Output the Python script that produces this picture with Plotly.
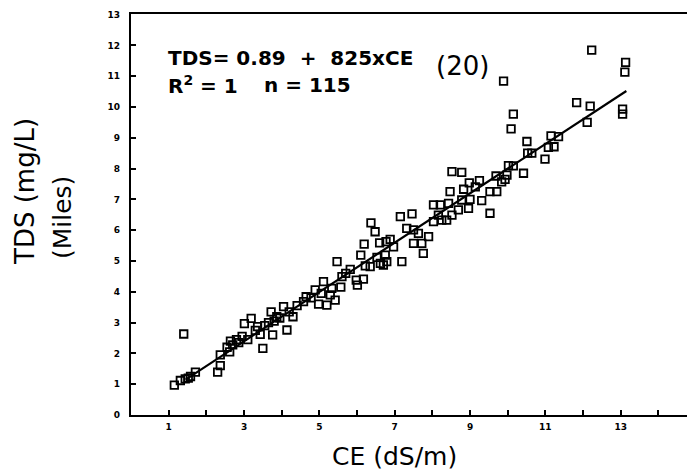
import plotly.graph_objects as go

# Data (CE in dS/m, TDS in mg/L)
ce = [1.15, 1.31, 1.44, 1.52, 1.58, 1.71, 1.40, 2.30, 2.37, 2.37, 2.62, 2.64, 2.70, 2.80, 2.86,
      3.01, 3.10, 3.19, 3.30, 3.36, 3.43, 3.50, 3.55, 3.65, 3.72, 3.76, 3.80, 3.87, 3.95, 4.05,
      4.14, 4.20, 4.30, 4.41, 2.55, 2.95,
      4.58, 4.65, 4.78, 4.89, 4.98, 5.05, 5.11, 5.20, 5.29, 5.33, 5.42, 5.47, 5.57, 5.60, 5.70,
      5.82, 5.98, 6.01, 6.10, 6.17, 6.19, 6.22, 6.35, 6.37, 6.48, 6.53, 6.60, 6.62, 6.75, 6.77,
      6.79, 6.88, 6.97, 6.70,
      7.15, 7.19, 7.32, 7.46, 7.50, 7.50, 7.63, 7.72, 7.76, 7.90, 8.03, 8.03, 8.16, 8.21, 8.25,
      8.38, 8.43, 8.47, 8.52, 8.52, 8.69, 8.78, 8.78, 8.83, 8.96, 8.98, 9.00, 9.14, 9.25, 9.31,
      9.53, 9.53, 9.69, 9.71, 9.84, 9.89, 9.93, 9.98,
      10.02, 10.09, 10.15, 10.15, 10.42, 10.51, 10.53, 10.64, 10.99, 11.08, 11.15, 11.23, 11.35,
      11.83, 12.11, 12.19, 12.23, 13.05, 13.05, 13.11, 13.13]
tds = [0.97, 1.12, 1.17, 1.20, 1.25, 1.39, 2.63, 1.39, 1.60, 1.95, 2.05, 2.40, 2.28, 2.45, 2.35,
       2.97, 2.45, 3.14, 2.75, 2.87, 2.62, 2.16, 2.90, 3.00, 3.35, 2.60, 3.05, 3.19, 3.15, 3.52,
       2.76, 3.35, 3.19, 3.55, 2.20, 2.55,
       3.68, 3.84, 3.80, 4.06, 3.60, 3.95, 4.33, 3.57, 3.90, 4.11, 3.73, 4.98, 4.15, 4.49, 4.60,
       4.73, 4.38, 4.22, 5.19, 4.41, 5.55, 4.84, 4.82, 6.24, 5.95, 5.12, 5.59, 4.92, 5.19, 5.63,
       4.98, 5.70, 5.46, 4.87,
       6.44, 4.98, 6.06, 6.53, 5.57, 6.01, 5.90, 5.57, 5.25, 5.79, 6.28, 6.82, 6.49, 6.82, 6.33,
       6.33, 6.87, 7.25, 6.49, 7.90, 6.66, 7.88, 6.98, 7.33, 6.71, 7.54, 7.00, 7.41, 7.61, 6.96,
       6.55, 7.25, 7.76, 7.25, 7.57, 10.84, 7.65, 7.79,
       8.10, 9.29, 9.77, 8.09, 7.85, 8.88, 8.50, 8.50, 8.31, 8.69, 9.06, 8.71, 9.04,
       10.14, 9.50, 10.03, 11.85, 9.77, 9.93, 11.13, 11.45]

# Regression line end values
fit_ce = [1.45, 13.15]
fit_tds = [1.15, 10.52]

x_tickvals = [1, 3, 5, 7, 9, 11, 13]
y_tickvals = list(range(0, 14))

fig = go.Figure()
fig.add_trace(go.Scatter(x=fit_ce, y=fit_tds, mode="lines",
                         line=dict(color="black", width=2.2), showlegend=False,
                         hoverinfo="skip"))
fig.add_trace(go.Scatter(x=ce, y=tds, mode="markers",
                         marker=dict(symbol="square-open", size=7.5, color="black",
                                     line=dict(width=1.8, color="black")),
                         showlegend=False))

tickfont = dict(family="DejaVu Sans", size=9, color="black", weight="bold")

fig.update_layout(
    width=687, height=472,
    margin=dict(l=131, r=0, t=14, b=57),
    paper_bgcolor="white", plot_bgcolor="white",
    xaxis=dict(range=[0, 14.76], tickvals=x_tickvals, ticks="inside", ticklen=5,
               tickwidth=1.5, tickcolor="black", showline=True, linecolor="black",
               linewidth=2, mirror=True, showgrid=False, zeroline=False,
               tickfont=tickfont, ticklabelstandoff=2,
               minor=dict(dtick=1, tick0=0, ticks="inside", ticklen=5, tickwidth=1.5,
                          tickcolor="black", showgrid=False)),
    yaxis=dict(range=[0, 13.02], tickvals=y_tickvals, ticks="inside", ticklen=5,
               tickwidth=1.5, tickcolor="black", showline=True, linecolor="black",
               linewidth=2.2, showgrid=False, zeroline=False,
               tickfont=tickfont, ticklabelstandoff=7),
    font=dict(family="DejaVu Sans", color="black"),
)


def px_ann(px, py, text, size, bold=False, angle=0, anchor="center"):
    fig.add_annotation(
        xref="paper", yref="paper",
        x=(px - 131) / 556, y=(415 - py) / 401,
        text=text, showarrow=False, textangle=angle,
        font=dict(size=size, family="DejaVu Sans", color="black",
                  weight="bold" if bold else "normal"),
        xanchor=anchor, yanchor="middle",
    )


px_ann(394, 456, "CE (dS/m)", 25)
px_ann(25, 192, "TDS (mg/L)", 26, angle=-90)
px_ann(62, 218, "(Miles)", 25, angle=-90)
px_ann(166, 58, "TDS= 0.89 &nbsp;+ &nbsp;825xCE", 20, bold=True, anchor="left")
px_ann(166, 85, "R<sup>2</sup> = 1", 20, bold=True, anchor="left")
px_ann(262, 85, "n = 115", 20, bold=True, anchor="left")
px_ann(434, 66, "(20)", 26, anchor="left")

fig.write_html("out.html")
